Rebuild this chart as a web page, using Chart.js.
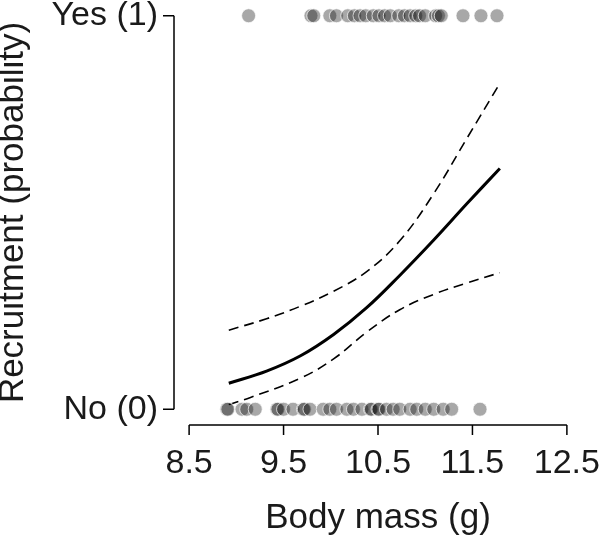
<!DOCTYPE html>
<html>
<head>
<meta charset="utf-8">
<script src="https://cdn.jsdelivr.net/npm/chart.js@4.4.1/dist/chart.umd.min.js"></script>
<style>
  html, body { margin: 0; padding: 0; background: #fff; }
  #wrap { width: 600px; height: 540px; }
</style>
</head>
<body>
<div id="wrap"><canvas id="c" width="600" height="540"></canvas></div>
<script>
// ---- data ----
// body mass (g) of birds recruited (Yes = 1)
const yesMass = [9.13, 9.79, 9.82, 9.99, 10.06, 10.18, 10.25, 10.31, 10.37, 10.45, 10.51,
  10.57, 10.63, 10.72, 10.78, 10.84, 10.90, 10.94, 11.00, 11.11, 11.14, 11.17, 11.40, 11.59, 11.76];
// body mass (g) of birds not recruited (No = 0)
const noMass = [8.90, 8.91, 9.06, 9.11, 9.20, 9.43, 9.44, 9.50, 9.60, 9.71, 9.72, 9.78, 9.92,
  9.99, 10.06, 10.17, 10.24, 10.33, 10.42, 10.43, 10.50, 10.51, 10.59, 10.66, 10.73, 10.84,
  10.91, 11.00, 11.09, 11.19, 11.28, 11.58];
// fitted curve and confidence band
const curveMass = [8.92, 9.32, 9.68, 10.03, 10.38, 10.73, 11.09, 11.44, 11.79];
const fitProb   = [0.066, 0.097, 0.136, 0.190, 0.258, 0.340, 0.430, 0.522, 0.612];
const upperProb = [0.201, 0.230, 0.262, 0.300, 0.350, 0.428, 0.548, 0.688, 0.828];
const lowerMass = [8.92, 9.15, 9.68, 10.03, 10.38, 10.73, 11.09, 11.44, 11.79];
const lowerProb = [0.012, 0.030, 0.079, 0.128, 0.196, 0.253, 0.292, 0.321, 0.347];
// axes
const xTickValues = [8.5, 9.5, 10.5, 11.5, 12.5];
const xTickLabels = ['8.5', '9.5', '10.5', '11.5', '12.5'];
const yTickValues = [0, 1];
const yTickLabels = ['No (0)', 'Yes (1)'];
const xTitle = 'Body mass (g)';
const yTitle = 'Recruitment (probability)';

const FONT = "'Liberation Sans', Arial, sans-serif";

const pts = (xs, ys) => xs.map((x, i) => ({ x: x, y: ys[i] }));
const flat = (xs, v) => xs.map(x => ({ x: x, y: v }));

const rAxes = {
  id: 'rAxes',
  afterDraw(chart) {
    const { ctx, chartArea } = chart;
    const x = chart.scales.x, y = chart.scales.y;
    ctx.save();
    ctx.strokeStyle = '#000';
    ctx.lineWidth = 1.5;
    ctx.lineCap = 'butt';
    // x axis (R style, first to last tick)
    const by = chartArea.bottom;
    const x0 = x.getPixelForValue(xTickValues[0]);
    const x1 = x.getPixelForValue(xTickValues[xTickValues.length - 1]);
    ctx.beginPath();
    ctx.moveTo(x0, by); ctx.lineTo(x1, by);
    xTickValues.forEach(v => {
      const p = x.getPixelForValue(v);
      ctx.moveTo(p, by); ctx.lineTo(p, by + 10);
    });
    // y axis
    const lx = chartArea.left;
    const y0 = y.getPixelForValue(yTickValues[0]);
    const y1 = y.getPixelForValue(yTickValues[yTickValues.length - 1]);
    ctx.moveTo(lx, y0); ctx.lineTo(lx, y1);
    yTickValues.forEach(v => {
      const p = y.getPixelForValue(v);
      ctx.moveTo(lx, p); ctx.lineTo(lx - 11, p);
    });
    ctx.stroke();
    ctx.restore();
  }
};

const pointStyle = {
  type: 'scatter',
  showLine: false,
  pointRadius: 7,
  pointHoverRadius: 7,
  pointBackgroundColor: 'rgba(0,0,0,0.34)',
  pointBorderColor: 'rgba(255,255,255,0.7)',
  pointBorderWidth: 1
};

const lineBase = { type: 'line', borderColor: '#000', pointRadius: 0, fill: false, tension: 0.4 };

new Chart(document.getElementById('c'), {
  data: {
    datasets: [
      Object.assign({ label: 'Yes', data: flat(yesMass, 1) }, pointStyle),
      Object.assign({ label: 'No', data: flat(noMass, 0) }, pointStyle),
      Object.assign({ label: 'Fit', data: pts(curveMass, fitProb), borderWidth: 3 }, lineBase),
      Object.assign({ label: 'Upper', data: pts(curveMass, upperProb), borderWidth: 1.6, borderDash: [10, 6] }, lineBase),
      Object.assign({ label: 'Lower', data: pts(lowerMass, lowerProb), borderWidth: 1.6, borderDash: [10, 6] }, lineBase)
    ]
  },
  options: {
    responsive: false,
    animation: false,
    events: [],
    layout: { autoPadding: false, padding: { left: 0, right: 18, top: 0, bottom: 0 } },
    plugins: { legend: { display: false }, tooltip: { enabled: false } },
    scales: {
      x: {
        type: 'linear',
        min: 8.34, max: 12.66,
        grid: { display: false, drawTicks: false },
        border: { display: false },
        afterBuildTicks: s => { s.ticks = xTickValues.map(v => ({ value: v })); },
        afterFit: s => { s.height = 115; s.paddingLeft = 0; s.paddingRight = 0; },
        ticks: {
          autoSkip: false, maxRotation: 0, minRotation: 0, padding: 18,
          color: '#1a1a1a', font: { family: FONT, size: 34 },
          callback: (v, i) => xTickLabels[i]
        },
        title: { display: true, text: xTitle, color: '#1a1a1a',
          font: { family: FONT, size: 35 }, padding: { top: 0, bottom: 1 } }
      },
      y: {
        type: 'linear',
        min: -0.04, max: 1.04,
        grid: { display: false, drawTicks: false },
        border: { display: false },
        afterBuildTicks: s => { s.ticks = yTickValues.map(v => ({ value: v })); },
        afterFit: s => { s.width = 174; s.paddingTop = 0; s.paddingBottom = 0; },
        ticks: {
          autoSkip: false, padding: 16,
          color: '#1a1a1a', font: { family: FONT, size: 34 },
          callback: (v, i) => yTickLabels[i]
        },
        title: { display: true, text: yTitle, color: '#1a1a1a',
          font: { family: FONT, size: 35, lineHeight: 0.78 }, padding: 0 }
      }
    }
  },
  plugins: [rAxes]
});
</script>
</body>
</html>
